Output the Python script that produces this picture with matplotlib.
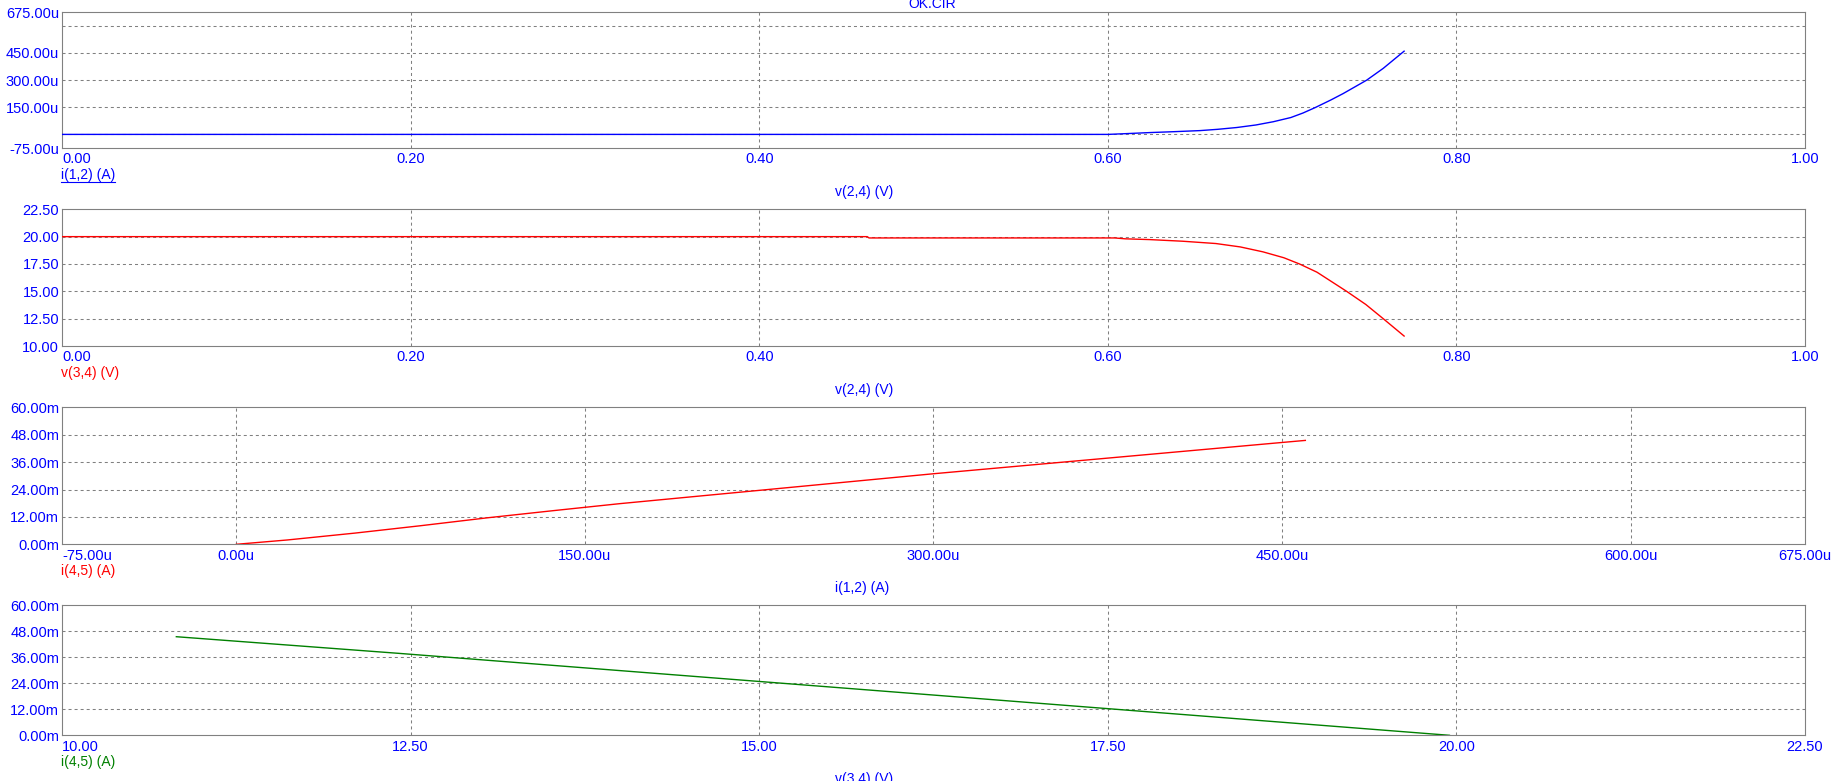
import matplotlib
matplotlib.use('Agg')
import matplotlib.pyplot as plt
from matplotlib.lines import Line2D

plt.rcParams['font.family'] = ['Liberation Sans', 'DejaVu Sans']
plt.rcParams['font.size'] = 10

BLUE = '#0000ff'
RED = '#ff0000'
GREEN = '#008000'
GRAY = '#808080'

# --- data ---
# panel 1: i(1,2) [uA] vs v(2,4) [V]
v24_p1 = [0.0, 0.600, 0.610, 0.624, 0.638, 0.653, 0.663, 0.674, 0.685, 0.695,
          0.705, 0.712, 0.719, 0.728, 0.735, 0.7485, 0.758, 0.770]
i12_p1 = [0, 0, 4, 10, 15, 21, 28, 38, 52, 70, 93, 118, 148, 190, 225, 299, 364, 459]

# panel 2: v(3,4) [V] vs v(2,4) [V]
v24_p2 = [0.0, 0.462, 0.463, 0.604, 0.610, 0.624, 0.643, 0.662, 0.676, 0.689,
          0.701, 0.710, 0.720, 0.737, 0.748, 0.758, 0.770]
v34_p2 = [20.0, 20.0, 19.88, 19.88, 19.80, 19.73, 19.58, 19.37, 19.06, 18.61,
          18.07, 17.50, 16.75, 15.00, 13.80, 12.50, 10.91]

# panel 3: i(4,5) [mA] vs i(1,2) [uA]
i12_p3 = [0, 22, 51, 79, 108, 137, 165, 300, 450, 460]
i45_p3 = [0, 1.9, 4.9, 8.1, 11.6, 14.8, 17.8, 30.9, 44.6, 45.5]

# panel 4: i(4,5) [mA] vs v(3,4) [V]
v34_p4 = [10.82, 12.42, 17.5, 19.95]
i45_p4 = [45.5, 37.8, 12.3, 0.0]

# axis ticks / labels
volt_ticks = [0.0, 0.2, 0.4, 0.6, 0.8, 1.0]
volt_labels = ['0.00', '0.20', '0.40', '0.60', '0.80', '1.00']
volt_grid = [0.2, 0.4, 0.6, 0.8]

ua_ticks = [-75, 150, 300, 450, 675]
ua_labels = ['-75.00u', '150.00u', '300.00u', '450.00u', '675.00u']
ua_xticks = [-75, 0, 150, 300, 450, 600, 675]
ua_xlabels = ['-75.00u', '0.00u', '150.00u', '300.00u', '450.00u', '600.00u', '675.00u']
ua_grid = [0, 150, 300, 450, 600]

v34_ticks = [10, 12.5, 15, 17.5, 20, 22.5]
v34_labels = ['10.00', '12.50', '15.00', '17.50', '20.00', '22.50']
v34_grid = [12.5, 15, 17.5, 20]

ma_ticks = [0, 12, 24, 36, 48, 60]
ma_labels = ['0.00m', '12.00m', '24.00m', '36.00m', '48.00m', '60.00m']
ma_grid = [12, 24, 36, 48]

W, H = 1839, 781
fig = plt.figure(figsize=(W / 100, H / 100), dpi=100)
GRID = dict(color=GRAY, ls=(0, (2.9, 2.9)), lw=0.75, zorder=1)


def panel(top, bottom, xlim, ylim, xt, xl, yt, yl, xg, yg):
    ax = fig.add_axes([62 / W, 1 - bottom / H, 1743 / W, (bottom - top) / H])
    ax.set_xlim(xlim)
    ax.set_ylim(ylim)
    ax.set_xticks(xt, xl)
    ax.set_yticks(yt, yl)
    for g in xg:
        ax.axvline(g, **GRID)
    for g in yg:
        ax.axhline(g, **GRID)
    ax.tick_params(length=0, colors=BLUE, labelsize=10.5)
    ax.tick_params(axis='x', pad=3.2)
    ax.tick_params(axis='y', pad=2)
    for s in ax.spines.values():
        s.set_color(GRAY)
        s.set_linewidth(0.8)
    ax.get_xticklabels()[0].set_ha('left')
    return ax


panels = [(12, 148), (209.3, 346), (407.3, 544.3), (605.3, 735.3)]

ax1 = panel(*panels[0], (0, 1), (-75, 675), volt_ticks, volt_labels,
            ua_ticks, ua_labels, volt_grid, ua_grid)
ax1.plot(v24_p1, i12_p1, color=BLUE, lw=1.0, zorder=3)

ax2 = panel(*panels[1], (0, 1), (10, 22.5), volt_ticks, volt_labels,
            v34_ticks, v34_labels, volt_grid, v34_grid)
ax2.plot(v24_p2, v34_p2, color=RED, lw=1.0, zorder=3)

ax3 = panel(*panels[2], (-75, 675), (0, 60), ua_xticks, ua_xlabels,
            ma_ticks, ma_labels, ua_grid, ma_grid)
ax3.plot(i12_p3, i45_p3, color=RED, lw=1.0, zorder=3)

ax4 = panel(*panels[3], (10, 22.5), (0, 60), v34_ticks, v34_labels,
            ma_ticks, ma_labels, v34_grid, ma_grid)
ax4.plot(v34_p4, i45_p4, color=GREEN, lw=1.0, zorder=3)

# title, clipped at the top like the original
fig.text(932 / W, 1 - 8.5 / H, 'OK.CIR', color=BLUE, ha='center', va='baseline')

# trace names (left) and x-axis names (middle)
trace_names = [('i(1,2) (A)', BLUE), ('v(3,4) (V)', RED), ('i(4,5) (A)', RED), ('i(4,5) (A)', GREEN)]
x_names = ['v(2,4) (V)', 'v(2,4) (V)', 'i(1,2) (A)', 'v(3,4) (V)']
first = None
for (top, bottom), (name, col), xn in zip(panels, trace_names, x_names):
    t = fig.text(61 / W, 1 - (bottom + 31) / H, name, color=col, ha='left', va='baseline')
    if first is None:
        first = t
    fig.text(835 / W, 1 - (bottom + 48) / H, xn, color=BLUE, ha='left', va='baseline')

# underline the selected trace name
r = fig.canvas.get_renderer()
bb = first.get_window_extent(r)
uy = 1 - (148 + 33.5) / H
fig.add_artist(Line2D([bb.x0 / W, bb.x1 / W], [uy, uy], transform=fig.transFigure,
                      color=BLUE, lw=0.8))

fig.savefig('out.png', dpi=100, facecolor='white')
